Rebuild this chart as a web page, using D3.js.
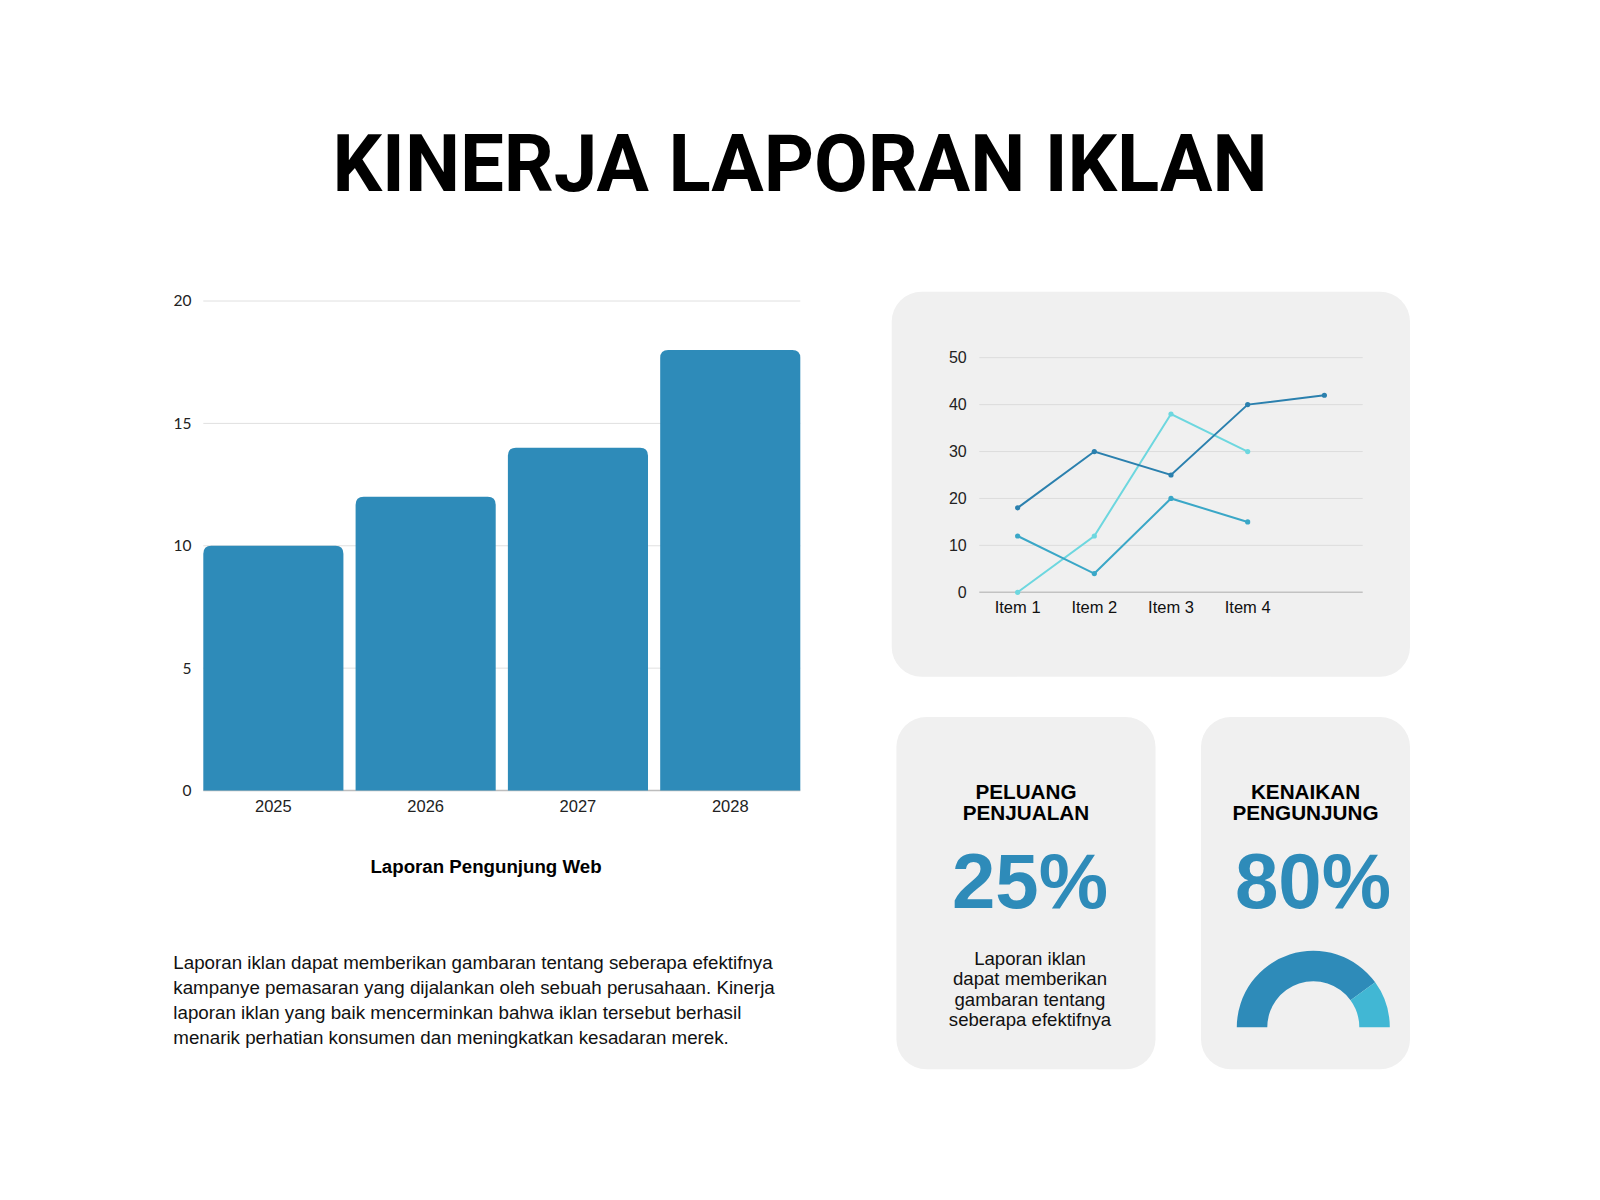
<!DOCTYPE html>
<html>
<head>
<meta charset="utf-8">
<script src="https://cdn.jsdelivr.net/npm/d3@7"></script>
<style>
  html, body { margin: 0; padding: 0; background: #ffffff; }
  svg { display: block; }
</style>
</head>
<body>
<svg id="chart" width="1600" height="1200"></svg>
<script>
// ---------- DATA ----------
const titleText = "KINERJA LAPORAN IKLAN";

const barYears = ["2025", "2026", "2027", "2028"];
const barValues = [10, 12, 14, 18];
const barTicks = [0, 5, 10, 15, 20];
const barCaption = "Laporan Pengunjung Web";

const lineItems = ["Item 1", "Item 2", "Item 3", "Item 4", ""];
const seriesA = [18, 30, 25, 40, 42];
const seriesB = [12, 4, 20, 15];
const seriesC = [0, 12, 38, 30];
const lineTicks = [0, 10, 20, 30, 40, 50];

const paragraphLines = [
  "Laporan iklan dapat memberikan gambaran tentang seberapa efektifnya",
  "kampanye pemasaran yang dijalankan oleh sebuah perusahaan. Kinerja",
  "laporan iklan yang baik mencerminkan bahwa iklan tersebut berhasil",
  "menarik perhatian konsumen dan meningkatkan kesadaran merek."
];

const stat1Title = ["PELUANG", "PENJUALAN"];
const stat1Value = "25%";
const stat1Lines = ["Laporan iklan", "dapat memberikan", "gambaran tentang", "seberapa efektifnya"];

const stat2Title = ["KENAIKAN", "PENGUNJUNG"];
const stat2Value = "80%";
const gaugeValues = [80, 20];

// ---------- STYLE ----------
const BLUE = "#2e8bb9";
const GAUGE_LIGHT = "#41b7d4";
const LINE_COLORS = ["#2b80ae", "#3aa7c7", "#6dd7df"];
const CARD = "#f0f0f0";
const SANS = "'Liberation Sans', Arial, sans-serif";

const svg = d3.select("#chart");

// ---------- CARDS ----------
const cards = [
  { x: 891.7, y: 291.7, w: 1410 - 891.7, h: 676.7 - 291.7 },
  { x: 896.4, y: 717, w: 1155.5 - 896.4, h: 1069.3 - 717 },
  { x: 1201, y: 717, w: 1410 - 1201, h: 1069.3 - 717 }
];
svg.append("g").selectAll("rect").data(cards).join("rect")
  .attr("x", d => d.x).attr("y", d => d.y)
  .attr("width", d => d.w).attr("height", d => d.h)
  .attr("rx", 30).attr("ry", 30)
  .attr("fill", CARD);

// ---------- TITLE ----------
svg.append("text")
  .attr("x", 800).attr("y", 190.5)
  .attr("text-anchor", "middle")
  .attr("font-family", "Roboto, 'Liberation Sans', sans-serif")
  .attr("font-weight", 700)
  .attr("font-size", 80)
  .attr("textLength", 935)
  .attr("lengthAdjust", "spacingAndGlyphs")
  .attr("fill", "#000")
  .text(titleText);

// ---------- BAR CHART ----------
const bx = d3.scaleBand().domain(barYears).range([203.3, 800.3]).paddingInner(0.08).paddingOuter(0);
const by = d3.scaleLinear().domain([0, 20]).range([790.5, 301]);

const barG = svg.append("g");
barG.selectAll("line.grid").data(barTicks).join("line")
  .attr("x1", 203.3).attr("x2", 800.3)
  .attr("y1", d => by(d)).attr("y2", d => by(d))
  .attr("stroke", d => d === 0 ? "#bdbdbd" : "#e0e0e0")
  .attr("stroke-width", d => d === 0 ? 1.5 : 1);

function topRounded(x, y, w, h, r) {
  return `M${x},${y + h}V${y + r}Q${x},${y} ${x + r},${y}H${x + w - r}Q${x + w},${y} ${x + w},${y + r}V${y + h}Z`;
}
barG.selectAll("path.bar").data(barValues).join("path")
  .attr("d", (d, i) => topRounded(bx(barYears[i]), by(d), bx.bandwidth(), by(0) - by(d), 8))
  .attr("fill", BLUE);

barG.selectAll("text.ytick").data(barTicks).join("text")
  .attr("x", 191.5).attr("y", d => by(d))
  .attr("dy", "0.35em")
  .attr("text-anchor", "end")
  .attr("font-family", "Lato, 'Liberation Sans', sans-serif")
  .attr("font-size", 15.5)
  .attr("fill", "#222")
  .text(d => d);

barG.selectAll("text.xtick").data(barYears).join("text")
  .attr("x", d => bx(d) + bx.bandwidth() / 2).attr("y", 812)
  .attr("text-anchor", "middle")
  .attr("font-family", SANS)
  .attr("font-size", 16.5)
  .attr("fill", "#222")
  .text(d => d);

svg.append("text")
  .attr("x", 486).attr("y", 873.3)
  .attr("text-anchor", "middle")
  .attr("font-family", SANS)
  .attr("font-weight", 700)
  .attr("font-size", 18.7)
  .attr("fill", "#000")
  .text(barCaption);

// ---------- PARAGRAPH ----------
svg.append("text")
  .attr("font-family", SANS)
  .attr("font-size", 18.75)
  .attr("fill", "#111")
  .selectAll("tspan").data(paragraphLines).join("tspan")
  .attr("x", 173.3).attr("y", (d, i) => 968.5 + i * 25)
  .text(d => d);

// ---------- LINE CHART ----------
const lx = d3.scaleBand().domain(lineItems.map((d, i) => i)).range([979.3, 1362.7]);
const ly = d3.scaleLinear().domain([0, 50]).range([592.3, 357.7]);
const lineG = svg.append("g");

lineG.selectAll("line.grid").data(lineTicks).join("line")
  .attr("x1", 979.3).attr("x2", 1362.7)
  .attr("y1", d => ly(d)).attr("y2", d => ly(d))
  .attr("stroke", d => d === 0 ? "#c2c2c2" : "#dcdcdc")
  .attr("stroke-width", d => d === 0 ? 1.5 : 1);

lineG.selectAll("text.ytick").data(lineTicks).join("text")
  .attr("x", 966.7).attr("y", d => ly(d))
  .attr("dy", "0.35em")
  .attr("text-anchor", "end")
  .attr("font-family", SANS)
  .attr("font-size", 16)
  .attr("fill", "#222")
  .text(d => d);

lineG.selectAll("text.xtick").data(lineItems).join("text")
  .attr("x", (d, i) => lx(i) + lx.bandwidth() / 2).attr("y", 613)
  .attr("text-anchor", "middle")
  .attr("font-family", SANS)
  .attr("font-size", 16.5)
  .attr("fill", "#111")
  .text(d => d);

const lineGen = d3.line().x((d, i) => lx(i) + lx.bandwidth() / 2).y(d => ly(d));
const allSeries = [seriesC, seriesB, seriesA];
const allColors = [LINE_COLORS[2], LINE_COLORS[1], LINE_COLORS[0]];
allSeries.forEach((s, k) => {
  lineG.append("path").datum(s)
    .attr("d", lineGen)
    .attr("fill", "none")
    .attr("stroke", allColors[k])
    .attr("stroke-width", 2);
  lineG.selectAll(null).data(s).join("circle")
    .attr("cx", (d, i) => lx(i) + lx.bandwidth() / 2)
    .attr("cy", d => ly(d))
    .attr("r", 2.6)
    .attr("fill", allColors[k]);
});

// ---------- STAT CARDS ----------
function statTitle(lines, cx) {
  svg.append("text")
    .attr("text-anchor", "middle")
    .attr("font-family", SANS)
    .attr("font-weight", 700)
    .attr("font-size", 20.7)
    .attr("fill", "#000")
    .selectAll("tspan").data(lines).join("tspan")
    .attr("x", cx).attr("y", (d, i) => 798.5 + i * 21.3)
    .text(d => d);
}
function statValue(v, cx) {
  svg.append("text")
    .attr("x", cx).attr("y", 907.5)
    .attr("text-anchor", "middle")
    .attr("font-family", SANS)
    .attr("font-weight", 700)
    .attr("font-size", 78)
    .attr("fill", BLUE)
    .text(v);
}
statTitle(stat1Title, 1026);
statValue(stat1Value, 1030);
svg.append("text")
  .attr("text-anchor", "middle")
  .attr("font-family", SANS)
  .attr("font-size", 18.6)
  .attr("fill", "#111")
  .selectAll("tspan").data(stat1Lines).join("tspan")
  .attr("x", 1030).attr("y", (d, i) => 964.7 + i * 20.4)
  .text(d => d);

statTitle(stat2Title, 1305.5);
statValue(stat2Value, 1313);

// Gauge
const pie = d3.pie().sort(null).startAngle(-Math.PI / 2).endAngle(Math.PI / 2);
const arc = d3.arc().innerRadius(46).outerRadius(76.5);
svg.append("g")
  .attr("transform", "translate(1313.3,1027.3)")
  .selectAll("path").data(pie(gaugeValues)).join("path")
  .attr("d", arc)
  .attr("fill", (d, i) => i === 0 ? BLUE : GAUGE_LIGHT);
</script>
</body>
</html>
